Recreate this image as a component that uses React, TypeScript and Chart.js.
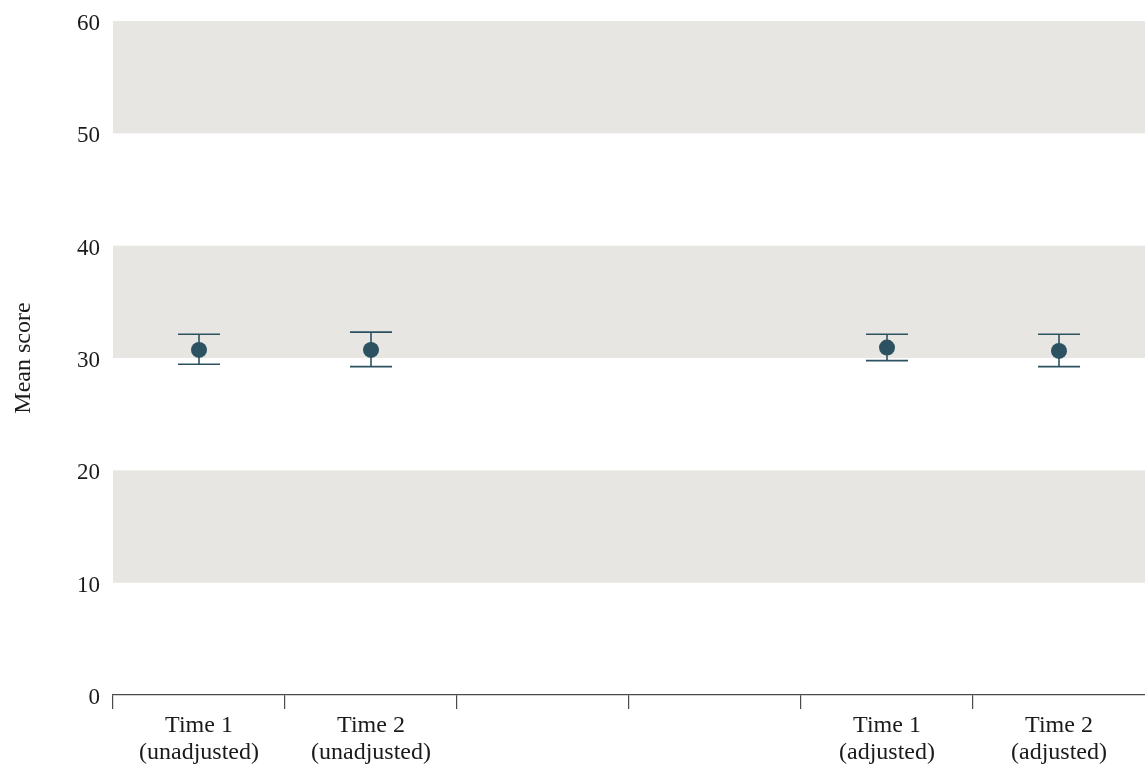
import React, { useEffect, useRef } from "react";
import { Chart, registerables } from "chart.js";

Chart.register(...registerables);

// Category labels (two lines each); the middle two slots are intentionally empty
const categories: string[][] = [
  ["Time 1", "(unadjusted)"],
  ["Time 2", "(unadjusted)"],
  [""],
  [""],
  ["Time 1", "(adjusted)"],
  ["Time 2", "(adjusted)"],
];

// Mean scores with confidence interval bounds
const means: (number | null)[] = [30.72, 30.72, null, null, 30.93, 30.63];
const upper: (number | null)[] = [32.12, 32.3, null, null, 32.12, 32.12];
const lower: (number | null)[] = [29.45, 29.23, null, null, 29.77, 29.23];

// Shaded horizontal bands on the y axis
const bandFrom: number[] = [10, 30, 50];
const bandTo: number[] = [20, 40, 60];

const yTicks: number[] = [0, 10, 20, 30, 40, 50, 60];

const FONT = "'Liberation Serif', 'DejaVu Serif', serif";
const MARK = "#2C5262";
const AXIS = "#4a4a4a";
const BAND = "#E8E6E2";

const bandsPlugin = {
  id: "bands",
  beforeDatasetsDraw(chart: any) {
    const { ctx, chartArea, scales } = chart;
    const y = scales.y;
    ctx.save();
    ctx.fillStyle = BAND;
    bandFrom.forEach((lo, i) => {
      const top = y.getPixelForValue(bandTo[i]);
      const bottom = y.getPixelForValue(lo);
      ctx.fillRect(chartArea.left, top, chartArea.right - chartArea.left, bottom - top);
    });
    ctx.restore();
  },
};

const errorBarsPlugin = {
  id: "errorBars",
  beforeDatasetsDraw(chart: any) {
    const { ctx, scales } = chart;
    const x = scales.x;
    const y = scales.y;
    const capHalf = 21;
    ctx.save();
    ctx.strokeStyle = MARK;
    ctx.lineWidth = 1.6;
    means.forEach((m, i) => {
      const hi = upper[i];
      const lo = lower[i];
      if (m === null || hi === null || lo === null) return;
      const px = x.getPixelForValue(i);
      const yHi = y.getPixelForValue(hi);
      const yLo = y.getPixelForValue(lo);
      ctx.beginPath();
      ctx.moveTo(px, yHi);
      ctx.lineTo(px, yLo);
      ctx.moveTo(px - capHalf, yHi);
      ctx.lineTo(px + capHalf, yHi);
      ctx.moveTo(px - capHalf, yLo);
      ctx.lineTo(px + capHalf, yLo);
      ctx.stroke();
    });
    ctx.restore();
  },
};

export default function App() {
  const canvasRef = useRef<HTMLCanvasElement | null>(null);

  useEffect(() => {
    if (!canvasRef.current) return;
    const chart = new Chart(canvasRef.current, {
      type: "line",
      data: {
        labels: categories,
        datasets: [
          {
            data: means,
            showLine: false,
            pointRadius: 8,
            pointHoverRadius: 8,
            pointBackgroundColor: MARK,
            pointBorderColor: MARK,
            pointBorderWidth: 0,
          },
        ],
      },
      options: {
        responsive: false,
        animation: false,
        layout: { autoPadding: false, padding: { top: 21, right: 0, bottom: 0, left: 0 } },
        plugins: {
          legend: { display: false },
          tooltip: { enabled: false },
        },
        scales: {
          x: {
            type: "category",
            offset: true,
            grid: {
              offset: true,
              display: true,
              drawOnChartArea: false,
              drawTicks: true,
              tickLength: 14,
              // no tick mark at the far right end of the axis
              color: (c: any) => (c.type === "tick" ? AXIS : "rgba(0,0,0,0)"),
              lineWidth: 1.2,
            },
            border: { display: true, color: AXIS, width: 1.2 },
            ticks: {
              color: "#1a1a1a",
              padding: 4,
              maxRotation: 0,
              autoSkip: false,
              font: { family: FONT, size: 24, lineHeight: 1.1 },
            },
            afterFit(scale: any) {
              scale.height = 76;
              scale.paddingLeft = 0;
              scale.paddingRight = 0;
            },
          },
          y: {
            min: 0,
            max: 60,
            grid: { display: false, drawTicks: false },
            border: { display: false },
            afterBuildTicks(scale: any) {
              scale.ticks = yTicks.map((v) => ({ value: v }));
            },
            ticks: {
              color: "#1a1a1a",
              padding: 13,
              labelOffset: 3,
              font: { family: FONT, size: 23 },
            },
            title: {
              display: true,
              text: "Mean score",
              color: "#1a1a1a",
              padding: { top: 9, bottom: 0 },
              font: { family: FONT, size: 24 },
            },
            afterFit(scale: any) {
              scale.width = 113;
              scale.paddingTop = 0;
              scale.paddingBottom = 0;
            },
          },
        },
      },
      plugins: [bandsPlugin, errorBarsPlugin],
    });
    return () => chart.destroy();
  }, []);

  return (
    <div style={{ position: "fixed", left: 0, top: 0, width: 1145, height: 771, background: "#fff" }}>
      <canvas ref={canvasRef} width={1145} height={771} />
    </div>
  );
}
